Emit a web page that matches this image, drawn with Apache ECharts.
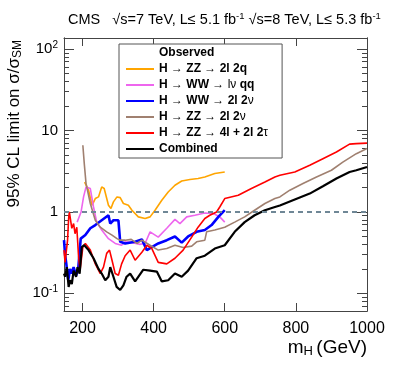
<!DOCTYPE html>
<html>
<head>
<meta charset="utf-8">
<script src="https://cdn.jsdelivr.net/npm/echarts@6/dist/echarts.min.js"></script>
<style>
  html, body { margin: 0; padding: 0; background: #fff; }
  #chart { width: 399px; height: 375px; }
</style>
</head>
<body>
<div id="chart"></div>
<script>
// tick values
var massTicks = [200, 400, 600, 800, 1000];
var limitTicks = [0.1, 1, 10, 100];
var limitMinor = [0.07, 0.08, 0.09, 0.2, 0.3, 0.4, 0.5, 0.6, 0.7, 0.8, 0.9,
  2, 3, 4, 5, 6, 7, 8, 9, 20, 30, 40, 50, 60, 70, 80, 90];

// H -> ZZ -> 2l 2q
var mass2l2q = [206, 217, 227, 236, 245, 254, 261, 273, 280, 287, 297, 306, 315, 329, 339, 357,
  376, 390, 404, 423, 441, 460, 479, 502, 525, 544, 572, 600];
var lim2l2q = [2.33, 1.85, 1.21, 1.46, 1.53, 2.03, 1.94, 1.21, 1.1, 1.33, 1.53, 1.5, 1.27, 1.21, 1.05, 0.87,
  0.83, 0.87, 1.05, 1.39, 1.76, 2.13, 2.4, 2.5, 2.57, 2.69, 2.96, 3.1];

// H -> WW -> lv qq
var massLvqq = [185, 190, 196, 203, 210, 222, 231, 240, 254, 273, 292, 310, 320, 340, 360, 376,
  390, 413, 437, 460, 474, 493, 516, 544, 568, 586, 600];
var limLvqq = [0.75, 0.72, 1.0, 1.53, 2.03, 1.94, 1.15, 0.75, 0.6, 0.47, 0.41, 0.39, 0.43, 0.42, 0.4, 0.41,
  0.57, 0.49, 0.63, 0.81, 0.72, 0.87, 0.91, 0.97, 0.955, 0.87, 0.75];

// H -> WW -> 2l 2v
var massWW2l2v = [148, 151, 154, 160, 165, 170, 175, 182, 188, 195, 208, 222, 236, 254, 273, 278,
  287, 301, 306, 320, 348, 367, 381, 395, 413, 437, 460, 479, 497, 521, 544, 563, 582, 600];
var limWW2l2v = [0.45, 0.3, 0.24, 0.145, 0.2, 0.175, 0.21, 0.165, 0.2, 0.47, 0.52, 0.63, 0.69, 0.79, 0.91, 0.72,
  0.79, 0.79, 0.43, 0.41, 0.43, 0.46, 0.34, 0.37, 0.41, 0.45, 0.5, 0.42, 0.5, 0.57, 0.6, 0.69, 0.87, 1.05];

// H -> ZZ -> 2l 2v
var massZZ2l2v = [201, 205, 210, 222, 236, 250, 268, 283, 297, 306, 320, 337, 353, 367, 390, 413,
  437, 460, 483, 507, 521, 544, 549, 572, 600, 628, 656, 684, 713, 741, 755, 783, 820, 858, 900,
  932, 970, 1000];
var limZZ2l2v = [6.6, 3.92, 2.23, 1.27, 0.79, 0.65, 0.57, 0.52, 0.47, 0.45, 0.45, 0.46, 0.41, 0.45, 0.39, 0.34,
  0.355, 0.39, 0.365, 0.38, 0.43, 0.45, 0.57, 0.6, 0.65, 0.75, 0.87, 1.05, 1.27, 1.46, 1.53, 1.85, 2.23, 2.69, 3.25,
  4.1, 5.2, 6.0];

// H -> ZZ -> 4l + 2l 2tau
var mass4l = [148, 151, 158, 161, 163, 170, 175, 179, 184, 189, 193, 201, 208, 222, 236, 250, 259, 268,
  276, 283, 292, 301, 310, 320, 334, 348, 367, 381, 395, 413, 437, 460, 483, 507, 525, 544, 558, 577,
  586, 600, 638, 675, 713, 741, 755, 797, 839, 876, 914, 951, 970, 1000];
var lim4l = [0.34, 0.24, 0.45, 0.83, 1.0, 0.63, 0.72, 0.54, 0.65, 0.28, 0.19, 0.37, 0.41, 0.34, 0.23, 0.175, 0.21, 0.31,
  0.34, 0.255, 0.175, 0.167, 0.23, 0.29, 0.34, 0.255, 0.32, 0.39, 0.355, 0.24, 0.23, 0.27, 0.34, 0.49, 0.65, 0.83, 0.91, 1.0,
  1.15, 1.46, 1.6, 1.94, 2.33, 2.69, 2.82, 3.1, 3.74, 4.5, 5.45, 6.8, 6.9, 7.0];

// Combined
var massComb = [148, 151, 156, 161, 165, 170, 175, 182, 186, 192, 198, 205, 217, 231, 245, 254, 264, 273,
  278, 287, 296, 306, 315, 324, 334, 348, 371, 390, 409, 423, 441, 460, 479, 497, 521, 544, 572, 600,
  628, 656, 684, 713, 741, 755, 797, 839, 876, 914, 951, 970, 1000];
var limComb = [0.175, 0.16, 0.21, 0.12, 0.145, 0.13, 0.19, 0.16, 0.21, 0.175, 0.37, 0.39, 0.34, 0.27, 0.2, 0.175, 0.145, 0.16,
  0.21, 0.16, 0.12, 0.11, 0.125, 0.16, 0.175, 0.14, 0.195, 0.19, 0.185, 0.14, 0.145, 0.175, 0.16, 0.19, 0.27, 0.29, 0.355, 0.39,
  0.57, 0.75, 0.91, 1.05, 1.15, 1.2, 1.42, 1.68, 2.07, 2.57, 3.1, 3.25, 3.57];

var font = 'Liberation Sans';
var xMin = 148, xMax = 1000, yMin = 0.0607, yMax = 137;

function pairs(xs, ys) {
  return xs.map(function (x, i) { return [x, ys[i]]; });
}

function line(name, xs, ys, color, width) {
  return {
    name: name,
    type: 'line',
    data: pairs(xs, ys),
    symbol: 'none',
    clip: true,
    lineStyle: { color: color, width: width },
    itemStyle: { color: color }
  };
}

var legendText = {
  'Observed': '{t|Observed}',
  '2l2q': '{b|H} {a|\u2192} {b|ZZ} {a|\u2192} {b|2l 2q}',
  'lvqq': '{b|H} {a|\u2192} {b|WW} {a|\u2192} {a|l\u03bd} {b|qq}',
  'ww2l2v': '{b|H} {a|\u2192} {b|WW} {a|\u2192} {b|2l 2}{a|\u03bd}',
  'zz2l2v': '{b|H} {a|\u2192} {b|ZZ} {a|\u2192} {b|2l 2}{a|\u03bd}',
  '4l': '{b|H} {a|\u2192} {b|ZZ} {a|\u2192} {b|4l + 2l 2}{a|\u03c4}',
  'Combined': '{b|Combined}'
};

function logAxis(pos, ticks, len, labels) {
  return {
    type: 'log',
    position: pos,
    min: yMin,
    max: yMax,
    logBase: 10,
    axisLine: { show: true, lineStyle: { color: '#444', width: 1 } },
    axisTick: { show: true, inside: true, length: len, customValues: ticks, lineStyle: { color: '#444' } },
    axisLabel: labels ? {
      show: true,
      customValues: limitTicks,
      margin: 6,
      fontFamily: font,
      fontSize: 15,
      color: '#000',
      formatter: function (v) {
        if (v >= 99) return '10{sup|2}';
        if (v >= 9) return '10';
        if (v >= 0.9) return '1';
        return '10{sup|-1}';
      },
      rich: { sup: { fontSize: 10, verticalAlign: 'top', padding: [0, 0, 8, 0], fontFamily: font } }
    } : { show: false },
    splitLine: { show: false }
  };
}

function massAxis(pos, labels) {
  return {
    type: 'value',
    position: pos,
    min: xMin,
    max: xMax,
    axisLine: { show: true, onZero: false, lineStyle: { color: '#444', width: 1 } },
    axisTick: { show: true, inside: true, length: 8, customValues: massTicks, lineStyle: { color: '#444' } },
    axisLabel: labels ? {
      show: true, customValues: massTicks, margin: 10,
      fontFamily: font, fontSize: 16, color: '#000',
      formatter: function (v) { return String(v); }
    } : { show: false },
    splitLine: { show: false },
    name: labels ? '{m|m}{s|H} {m|(GeV)}' : '',
    nameLocation: 'end',
    nameGap: 0,
    nameTextStyle: {
      align: 'right', verticalAlign: 'top', padding: [26, 0, 0, 0],
      rich: {
        m: { fontFamily: font, fontSize: 19, color: '#000' },
        s: { fontFamily: font, fontSize: 13, color: '#000', verticalAlign: 'bottom', padding: [8, 0, 0, 0] }
      }
    }
  };
}

var chart = echarts.init(document.getElementById('chart'), null, { renderer: 'canvas' });

var series = [
  { name: 'Observed', type: 'line', data: [] },
  line('2l2q', mass2l2q, lim2l2q, '#ffa500', 1.6),
  line('lvqq', massLvqq, limLvqq, '#ee66ee', 1.6),
  line('ww2l2v', massWW2l2v, limWW2l2v, '#0000ff', 2.6),
  line('zz2l2v', massZZ2l2v, limZZ2l2v, '#a08070', 1.6),
  line('4l', mass4l, lim4l, '#ff0000', 1.6),
  line('Combined', massComb, limComb, '#000000', 2.2)
];

series[6].markLine = {
  silent: true,
  symbol: 'none',
  label: { show: false },
  lineStyle: { color: '#6f8796', type: [5, 4], width: 2 },
  data: [{ yAxis: 1 }]
};

chart.setOption({
  animation: false,
  backgroundColor: '#fff',
  title: {
    left: 68,
    top: 11,
    padding: 0,
    text: 'CMS   \u221as=7 TeV, L\u2264 5.1 fb{sup|-1} \u221as=8 TeV, L\u2264 5.3 fb{sup|-1}',
    textStyle: {
      fontFamily: font, fontSize: 14.5, fontWeight: 'normal', color: '#000',
      rich: { sup: { fontFamily: font, fontSize: 9.5, verticalAlign: 'top', padding: [0, 0, 7, 0], color: '#000' } }
    }
  },
  grid: { left: 64, right: 32, top: 38, bottom: 64 },
  legend: {
    left: 119,
    top: 44,
    orient: 'vertical',
    itemWidth: 28,
    itemHeight: 14,
    itemGap: 2,
    padding: [2, 14, 2, 6],
    borderColor: '#555',
    borderWidth: 1,
    backgroundColor: '#fff',
    selectedMode: false,
    itemStyle: { opacity: 0 },
    data: [
      { name: 'Observed', icon: 'none' },
      '2l2q', 'lvqq', 'ww2l2v', 'zz2l2v', '4l', 'Combined'
    ],
    formatter: function (name) { return legendText[name]; },
    textStyle: {
      fontFamily: font, fontSize: 12, color: '#000', lineHeight: 14,
      rich: {
        t: { fontFamily: font, fontSize: 12, fontWeight: 'bold', color: '#000' },
        b: { fontFamily: font, fontSize: 12, fontWeight: 'bold', color: '#000' },
        a: { fontFamily: font, fontSize: 12, color: '#000' }
      }
    }
  },
  graphic: [{
    type: 'text',
    x: 14,
    y: 40,
    rotation: Math.PI / 2,
    style: {
      text: '{m|95% CL limit on \u03c3/\u03c3}{s|SM}',
      align: 'right',
      verticalAlign: 'middle',
      rich: {
        m: { fontFamily: font, fontSize: 17, fill: '#000' },
        s: { fontFamily: font, fontSize: 12, fill: '#000', verticalAlign: 'bottom', padding: [8, 0, 0, 0] }
      }
    }
  }],
  xAxis: [massAxis('bottom', true), massAxis('top', false)],
  yAxis: [
    logAxis('left', limitTicks, 10, true),
    logAxis('left', limitMinor, 5, false),
    logAxis('right', limitTicks, 10, false),
    logAxis('right', limitMinor, 5, false)
  ],
  series: series
});
</script>
</body>
</html>
